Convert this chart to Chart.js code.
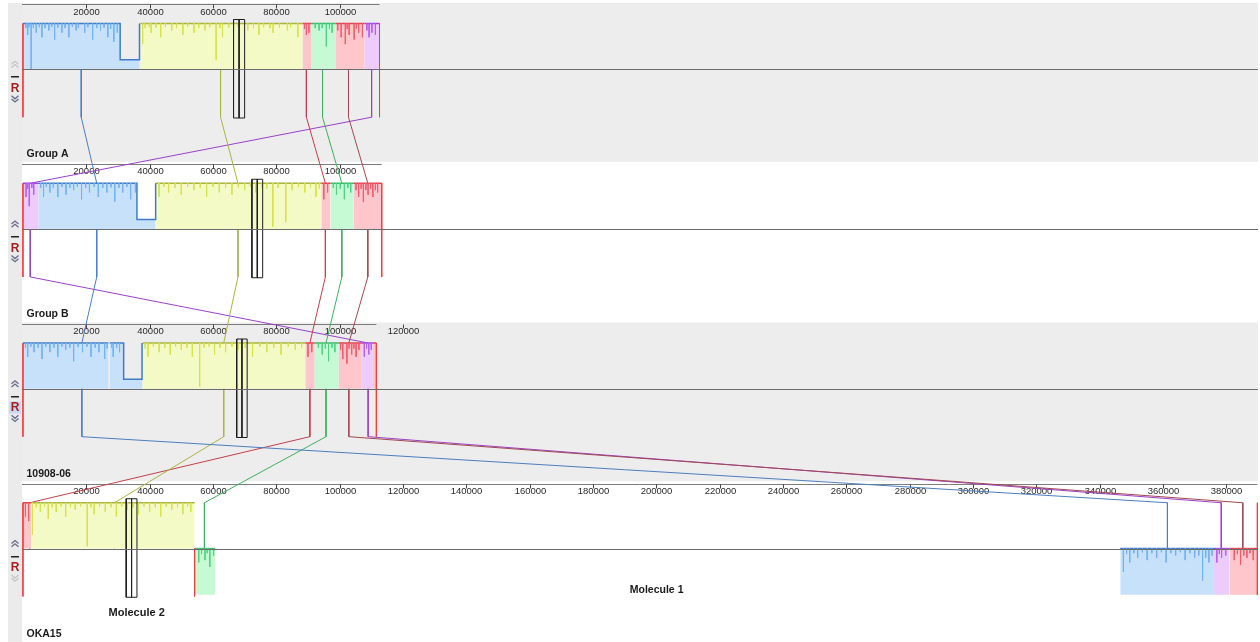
<!DOCTYPE html>
<html>
<head>
<meta charset="utf-8">
<title>Mauve alignment</title>
<script src="https://cdn.jsdelivr.net/npm/chart.js@4.4.1/dist/chart.umd.min.js"></script>
<style>
  html, body { margin: 0; padding: 0; background: #fff; }
  canvas { display: block; }
</style>
</head>
<body>
<canvas id="mauve" width="1260" height="642"></canvas>
<script>
// Mauve-style alignment of four genomes: LCB blocks, similarity profile, links between genomes.

const genomeNames = ['Group A', 'Group B', '10908-06', 'OKA15'];
const genomeLengths = [112600, 113300, 111600, 389800];
const moleculeBreak = 54200; // OKA15: end of Molecule 2
const moleculeLabels = ['Molecule 2', 'Molecule 1'];
const moleculeLabelPos = [35900, 200100];

const ticksA = [20000, 40000, 60000, 80000, 100000];
const ticksB = [20000, 40000, 60000, 80000, 100000];
const ticksC = [20000, 40000, 60000, 80000, 100000, 120000];
const ticksD = [20000, 40000, 60000, 80000, 100000, 120000, 140000, 160000, 180000, 200000,
    220000, 240000, 260000, 280000, 300000, 320000, 340000, 360000, 380000];

// [lcb, start, end, strand, lowStart, lowEnd]
const blocksA = [
    ['blue', 0, 36800, '+', 30700, 36800],
    ['yellow', 37100, 88300, '+'],
    ['red', 88300, 91100, '+'],
    ['green', 91100, 98700, '+'],
    ['pink', 98700, 107900, '+'],
    ['purple', 107900, 112600, '+'],
];
const blocksB = [
    ['purple', 0, 4800, '+'],
    ['blue', 4800, 41900, '+', 36000, 41900],
    ['yellow', 41900, 94200, '+'],
    ['red', 94200, 97100, '+'],
    ['green', 97100, 104500, '+'],
    ['pink', 104500, 113300, '+'],
];
const blocksC = [
    ['blue', 0, 27000, '+'],
    ['blue', 27400, 37600, '+', 31800, 37600],
    ['yellow', 37800, 89200, '+'],
    ['red', 89200, 92100, '+'],
    ['green', 92100, 99700, '+'],
    ['pink', 99700, 106800, '+'],
    ['purple', 106800, 110500, '+'],
    ['pink', 110500, 111600, '+'],
];
const blocksD = [
    ['red', 0, 2600, '+'],
    ['yellow', 2600, 54200, '+'],
    ['green', 54300, 60700, '-'],
    ['blue', 346500, 376100, '-'],
    ['purple', 376100, 381000, '-'],
    ['pink', 381000, 389800, '-'],
];
const lowLevel = 0.21; // similarity height inside the low region

// similarity dips: [position, depth 0..1]
const spikesA = [
    [900, 0.1], [1500, 0.25], [1900, 0.08], [2600, 1.0], [3300, 0.1], [4200, 0.2], [5200, 0.08],
    [6000, 0.3], [7000, 0.1], [8200, 0.15], [9100, 0.07], [10000, 0.35], [11000, 0.09], [12300, 0.2],
    [13300, 0.1], [14500, 0.3], [15600, 0.07], [16800, 0.15], [17500, 0.1], [19500, 0.2], [20500, 0.08],
    [22000, 0.35], [23300, 0.1], [24500, 0.15], [25600, 0.09], [26800, 0.3], [27700, 0.12], [28700, 0.4],
    [29800, 0.2], [37800, 0.45], [38600, 0.1], [39900, 0.08], [40500, 0.2], [42000, 0.09], [43500, 0.3],
    [45000, 0.08], [47000, 0.15], [48500, 0.1], [50500, 0.25], [52000, 0.07], [54000, 0.2], [55500, 0.1],
    [57500, 0.15], [59000, 0.08], [61000, 0.8], [62200, 0.1], [63000, 0.3], [65000, 0.09], [66500, 0.2],
    [68000, 0.08], [71000, 0.15], [72800, 0.1], [74500, 0.25], [76000, 0.08], [78000, 0.1], [79000, 0.2],
    [81000, 0.09], [83500, 0.15], [84500, 0.08], [86800, 0.3], [88900, 0.12], [89500, 0.25], [90300, 0.2],
    [92300, 0.1], [93500, 0.15], [94500, 0.1], [95800, 0.5], [96800, 0.12], [97600, 0.2], [99400, 0.15],
    [100500, 0.3], [101800, 0.45], [102400, 0.12], [103000, 0.25], [104600, 0.35], [105300, 0.12],
    [106000, 0.2], [107200, 0.3], [108600, 0.15], [109300, 0.3], [110200, 0.2], [111300, 0.25],
];
const spikesB = [
    [1000, 0.3], [1500, 0.12], [2000, 0.5], [2800, 0.1], [3400, 0.25], [5600, 0.1], [6500, 0.3],
    [7400, 0.08], [8500, 0.2], [9600, 0.1], [11000, 0.3], [12300, 0.08], [13600, 0.25], [14800, 0.1],
    [16000, 0.15], [17200, 0.08], [18500, 0.35], [19800, 0.1], [21000, 0.2], [22500, 0.08], [23800, 0.3],
    [25200, 0.1], [26500, 0.2], [27800, 0.09], [29000, 0.4], [30300, 0.1], [31500, 0.2], [32800, 0.08],
    [34000, 0.35], [35500, 0.2], [42800, 0.12], [43000, 0.3], [44500, 0.08], [46000, 0.2], [48000, 0.1],
    [50000, 0.25], [52000, 0.08], [54000, 0.15], [56000, 0.1], [58000, 0.3], [60000, 0.08], [62000, 0.2],
    [64000, 0.1], [66000, 0.25], [68000, 0.09], [70000, 0.15], [71800, 0.08], [73500, 0.2], [75500, 0.1],
    [77000, 0.12], [78900, 0.95], [80500, 0.1], [83000, 0.85], [85000, 0.15], [87000, 0.08], [89000, 0.2],
    [90800, 0.1], [92500, 0.3], [93600, 0.12], [95000, 0.35], [96200, 0.2], [98000, 0.1], [99000, 0.25],
    [100200, 0.12], [101500, 0.35], [102600, 0.1], [103500, 0.2], [105200, 0.15], [106000, 0.3],
    [106800, 0.12], [107500, 0.4], [108300, 0.15], [109000, 0.25], [109800, 0.12], [110500, 0.3],
    [111300, 0.15], [112000, 0.2],
];
const spikesC = [
    [800, 0.1], [1500, 0.3], [2500, 0.08], [3500, 0.2], [4800, 0.1], [6000, 0.35], [7200, 0.08],
    [8500, 0.2], [9800, 0.1], [11000, 0.3], [12300, 0.08], [13500, 0.15], [14800, 0.1], [16000, 0.4],
    [17400, 0.09], [18800, 0.2], [20200, 0.08], [21500, 0.3], [22800, 0.1], [24000, 0.2], [25800, 0.35],
    [26600, 0.12], [28000, 0.1], [28500, 0.3], [29600, 0.1], [30500, 0.2], [38600, 0.12], [39500, 0.3],
    [41200, 0.08], [43000, 0.2], [44800, 0.1], [46500, 0.25], [48200, 0.08], [50000, 0.15], [51800, 0.1],
    [53500, 0.3], [55800, 0.95], [57200, 0.1], [58800, 0.08], [60500, 0.25], [62200, 0.1], [64000, 0.2],
    [66000, 0.08], [68000, 0.15], [70200, 0.1], [72500, 0.3], [74800, 0.08], [77000, 0.2], [79200, 0.1],
    [81500, 0.25], [83800, 0.08], [86000, 0.15], [88000, 0.1], [90000, 0.3], [91200, 0.2], [93300, 0.1],
    [94500, 0.25], [95500, 0.12], [96500, 0.4], [97600, 0.1], [98500, 0.2], [100300, 0.15], [101000, 0.35],
    [102300, 0.45], [103000, 0.12], [103800, 0.25], [104500, 0.12], [105200, 0.3], [106100, 0.15],
    [107800, 0.3], [108500, 0.12], [109200, 0.25], [110000, 0.15],
];
const spikesD = [
    [800, 0.3], [1800, 0.4], [3000, 0.7], [4200, 0.1], [5500, 0.2], [6800, 0.08], [8000, 0.35],
    [9200, 0.1], [10500, 0.2], [12000, 0.08], [13500, 0.3], [15000, 0.1], [16500, 0.15], [18200, 0.08],
    [20300, 0.95], [21500, 0.1], [22500, 0.25], [24200, 0.08], [26000, 0.2], [27800, 0.1], [29500, 0.3],
    [31200, 0.08], [33000, 0.15], [34800, 0.1], [36500, 0.25], [38200, 0.08], [40000, 0.2], [41800, 0.1],
    [43500, 0.3], [45200, 0.08], [47000, 0.15], [48800, 0.1], [50500, 0.25], [52000, 0.08], [53000, 0.2],
    [55500, 0.3], [56400, 0.12], [57500, 0.25], [58200, 0.1], [59000, 0.4], [60200, 0.15],
    [347500, 0.5], [348500, 0.12], [349500, 0.3], [350800, 0.1], [352000, 0.2], [353500, 0.08],
    [355000, 0.25], [356500, 0.1], [358000, 0.2], [359500, 0.08], [361000, 0.3], [362500, 0.1],
    [364000, 0.15], [365500, 0.08], [367000, 0.25], [368500, 0.1], [370000, 0.2], [371300, 0.15],
    [372500, 0.7], [373500, 0.2], [374500, 0.3], [375500, 0.15], [377000, 0.3], [377800, 0.12],
    [378500, 0.2], [379800, 0.15], [382500, 0.25], [383500, 0.12], [384500, 0.35], [385500, 0.15],
    [386500, 0.2], [387500, 0.1], [388500, 0.25],
];

// position of each LCB link in the four genomes
const linkBlue = [18400, 23300, 18600, 361400];
const linkYellow = [62400, 67900, 63400, 28900];
const linkRed = [89500, 95500, 90600, 2100];
const linkGreen = [94600, 100700, 95700, 57300];
const linkPink = [102800, 108900, 102900, 385200];
const linkPurple = [110100, 2300, 109000, 378400];

const cursorStart = [66500, 72300, 67500, 32600];
const cursorEnd = [70000, 75700, 70800, 36000];

const palette = {
    blue: { fill: '#c8e1fa', line: '#3f7cc6', spike: '#74b2f2', link: '#4a7fc0' },
    yellow: { fill: '#f4fac6', line: '#aab440', spike: '#d8e24c', link: '#a9b544' },
    red: { fill: '#ffc6cc', line: '#e0404e', spike: '#f25e6e', link: '#c2404a' },
    green: { fill: '#c6fad4', line: '#3cba6a', spike: '#52d282', link: '#40b060' },
    pink: { fill: '#ffc6cc', line: '#e0404e', spike: '#f25e6e', link: '#a34852' },
    purple: { fill: '#edcbfa', line: '#a444dc', spike: '#b262f0', link: '#9a42c8' },
};

// vertical layout inside one genome panel (y axis: one unit per genome)
const PANEL_PX = 639 / 4;
const off = (px) => px / PANEL_PX;
const ROW = {
    axis: off(1.3), tick: off(9), top: off(20.5), mid: off(66.3), revBottom: off(112.5),
    bottom: off(114.2), curTop: off(16.5), curBottom: off(115), label: off(151.5),
    mol1: off(107.5), mol2: off(130.5), up: off(61), dash: off(73.3), r: off(85), down: off(96.5),
};

const allBlocks = [blocksA, blocksB, blocksC, blocksD];
const allSpikes = [spikesA, spikesB, spikesC, spikesD];
const allTicks = [ticksA, ticksB, ticksC, ticksD];
const links = { blue: linkBlue, yellow: linkYellow, red: linkRed, green: linkGreen, pink: linkPink, purple: linkPurple };

const datasets = [];

// links between genomes
Object.entries(links).forEach(([id, pos]) => {
    const pts = [];
    pos.forEach((p, g) => {
        pts.push({ x: p, y: g + ROW.top });
        pts.push({ x: p, y: g + (g < pos.length - 1 ? ROW.bottom : ROW.mid) });
    });
    datasets.push({ data: pts, borderColor: palette[id].link, borderWidth: 1, order: 50 });
});

// blocks with similarity outline
allBlocks.forEach((blocks, g) => {
    blocks.forEach(([id, s, e, strand, low0, low1]) => {
        const c = palette[id];
        let pts, base;
        if (strand === '+') {
            const top = g + ROW.top;
            const low = g + ROW.mid - lowLevel * (ROW.mid - ROW.top);
            pts = [{ x: s, y: top }];
            if (low0 != null) {
                pts.push({ x: low0, y: top }, { x: low0, y: low }, { x: low1, y: low }, { x: low1, y: top });
            }
            pts.push({ x: e, y: top });
            base = g + ROW.mid;
        } else {
            pts = [{ x: s, y: g + ROW.mid }, { x: e, y: g + ROW.mid }];
            base = g + ROW.revBottom;
        }
        datasets.push({
            data: pts, borderColor: c.line, backgroundColor: c.fill,
            fill: { value: base }, borderWidth: 1.5, order: 30,
        });
    });
});

// profile dips
allSpikes.forEach((spikes, g) => {
    const groups = {};
    spikes.forEach(([pos, depth]) => {
        const b = allBlocks[g].find((k) => pos >= k[1] && pos <= k[2]);
        if (!b) return;
        const rev = b[3] === '-';
        const y0 = g + (rev ? ROW.mid : ROW.top);
        const span = rev ? ROW.revBottom - ROW.mid : ROW.mid - ROW.top;
        (groups[b[0]] = groups[b[0]] || []).push(
            { x: pos, y: y0 }, { x: pos, y: y0 + depth * span }, { x: pos, y: null });
    });
    Object.entries(groups).forEach(([id, pts]) => {
        datasets.push({ data: pts, borderColor: palette[id].spike, borderWidth: 1, order: 25 });
    });
});

// sequence start / end markers
genomeLengths.forEach((len, g) => {
    const last = g === genomeLengths.length - 1;
    const pts = [
        { x: 0, y: g + ROW.top }, { x: 0, y: g + ROW.bottom }, { x: 0, y: null },
        { x: len, y: g + ROW.top }, { x: len, y: g + (last ? ROW.revBottom : ROW.bottom) },
    ];
    if (last) {
        pts.push({ x: len, y: null }, { x: moleculeBreak, y: g + ROW.mid }, { x: moleculeBreak, y: g + ROW.bottom });
    }
    datasets.push({ data: pts, borderColor: '#ff3b3b', borderWidth: 1, order: 20 });
});

// cursor boxes
cursorStart.forEach((s, g) => {
    const e = cursorEnd[g];
    const m = (s + e) / 2;
    const t = g + ROW.curTop;
    const b = g + ROW.curBottom;
    datasets.push({
        data: [{ x: s, y: t }, { x: s, y: b }, { x: e, y: b }, { x: e, y: t }, { x: s, y: t },
            { x: m, y: null }, { x: m, y: t }, { x: m, y: b }],
        borderColor: '#1e1e1e', borderWidth: 1, order: 10,
    });
});

function chevrons(ctx, x, y, up, color) {
    ctx.strokeStyle = color;
    ctx.lineWidth = 1.3;
    [-1.7, 1.5].forEach((d) => {
        const yy = y + d;
        ctx.beginPath();
        if (up) {
            ctx.moveTo(x - 3.5, yy + 2); ctx.lineTo(x, yy - 1); ctx.lineTo(x + 3.5, yy + 2);
        } else {
            ctx.moveTo(x - 3.5, yy - 2); ctx.lineTo(x, yy + 1); ctx.lineTo(x + 3.5, yy - 2);
        }
        ctx.stroke();
    });
}

const frame = {
    id: 'mauveFrame',
    beforeDatasetsDraw(chart) {
        const { ctx, chartArea: a, scales: { x, y } } = chart;
        ctx.save();
        genomeNames.forEach((name, g) => {
            const t = y.getPixelForValue(g);
            const b = y.getPixelForValue(g + 1);
            ctx.fillStyle = g % 2 === 0 ? '#ededed' : '#ffffff';
            ctx.fillRect(a.left, t, a.right - a.left, b - t - 1);
        });
        ctx.fillStyle = '#ebebeb';
        ctx.fillRect(8, a.top, 14, a.bottom - a.top);

        ctx.font = '9.5px "Liberation Sans", Arial, sans-serif';
        ctx.textAlign = 'center';
        ctx.textBaseline = 'middle';
        genomeLengths.forEach((len, g) => {
            const ay = Math.round(y.getPixelForValue(g + ROW.axis)) + 0.5;
            ctx.strokeStyle = '#7c7c7c';
            ctx.lineWidth = 1;
            ctx.beginPath();
            ctx.moveTo(a.left, ay);
            ctx.lineTo(x.getPixelForValue(len), ay);
            ctx.stroke();
            allTicks[g].forEach((v) => {
                const px = Math.round(x.getPixelForValue(v)) + 0.5;
                ctx.strokeStyle = '#444';
                ctx.beginPath();
                ctx.moveTo(px, ay);
                ctx.lineTo(px, ay + 4);
                ctx.stroke();
                ctx.fillStyle = '#2a2a2a';
                ctx.fillText(String(v), px, y.getPixelForValue(g + ROW.tick));
            });
        });
        ctx.restore();
    },
    afterDatasetsDraw(chart) {
        const { ctx, chartArea: a, scales: { x, y } } = chart;
        ctx.save();
        genomeNames.forEach((name, g) => {
            const my = Math.round(y.getPixelForValue(g + ROW.mid)) + 0.5;
            ctx.strokeStyle = '#6c6c6c';
            ctx.lineWidth = 1;
            ctx.beginPath();
            ctx.moveTo(a.left, my);
            ctx.lineTo(a.right, my);
            ctx.stroke();

            ctx.fillStyle = '#1a1a1a';
            ctx.font = 'bold 10.5px "Liberation Sans", Arial, sans-serif';
            ctx.textAlign = 'left';
            ctx.textBaseline = 'middle';
            ctx.fillText(name, 26.5, y.getPixelForValue(g + ROW.label));

            // strip controls
            const last = g === genomeNames.length - 1;
            chevrons(ctx, 15, y.getPixelForValue(g + ROW.up), true, g === 0 ? '#c4c4c4' : '#6a6a88');
            chevrons(ctx, 15, y.getPixelForValue(g + ROW.down), false, last ? '#c4c4c4' : '#6a6a88');
            ctx.fillStyle = '#222';
            ctx.fillRect(11, Math.round(y.getPixelForValue(g + ROW.dash)), 8, 1.5);
            const ry = y.getPixelForValue(g + ROW.r);
            if (g === 2) {
                ctx.fillStyle = '#c9d8ee';
                ctx.fillRect(9, ry - 6, 12, 12);
            }
            ctx.fillStyle = '#a81c1c';
            ctx.font = 'bold 12px "Liberation Sans", Arial, sans-serif';
            ctx.textAlign = 'center';
            ctx.fillText('R', 15, ry + 0.5);
        });

        ctx.fillStyle = '#1a1a1a';
        ctx.textAlign = 'center';
        ctx.font = 'bold 11px "Liberation Sans", Arial, sans-serif';
        const gD = genomeNames.length - 1;
        ctx.fillText(moleculeLabels[0], x.getPixelForValue(moleculeLabelPos[0]), y.getPixelForValue(gD + ROW.mol2));
        ctx.font = 'bold 10.5px "Liberation Sans", Arial, sans-serif';
        ctx.fillText(moleculeLabels[1], x.getPixelForValue(moleculeLabelPos[1]), y.getPixelForValue(gD + ROW.mol1));
        ctx.restore();
    },
};

new Chart(document.getElementById('mauve'), {
    type: 'line',
    data: { datasets },
    options: {
        responsive: false,
        devicePixelRatio: 1,
        animation: false,
        events: [],
        layout: { padding: { left: 22, right: 2, top: 3, bottom: 0 } },
        elements: {
            point: { radius: 0, hoverRadius: 0 },
            line: { tension: 0, fill: false, borderJoinStyle: 'miter' },
        },
        plugins: { legend: { display: false }, tooltip: { enabled: false } },
        scales: {
            x: { type: 'linear', min: -300, max: 390000, display: false },
            y: { type: 'linear', min: 0, max: 4, reverse: true, display: false },
        },
    },
    plugins: [frame],
});
</script>
</body>
</html>
